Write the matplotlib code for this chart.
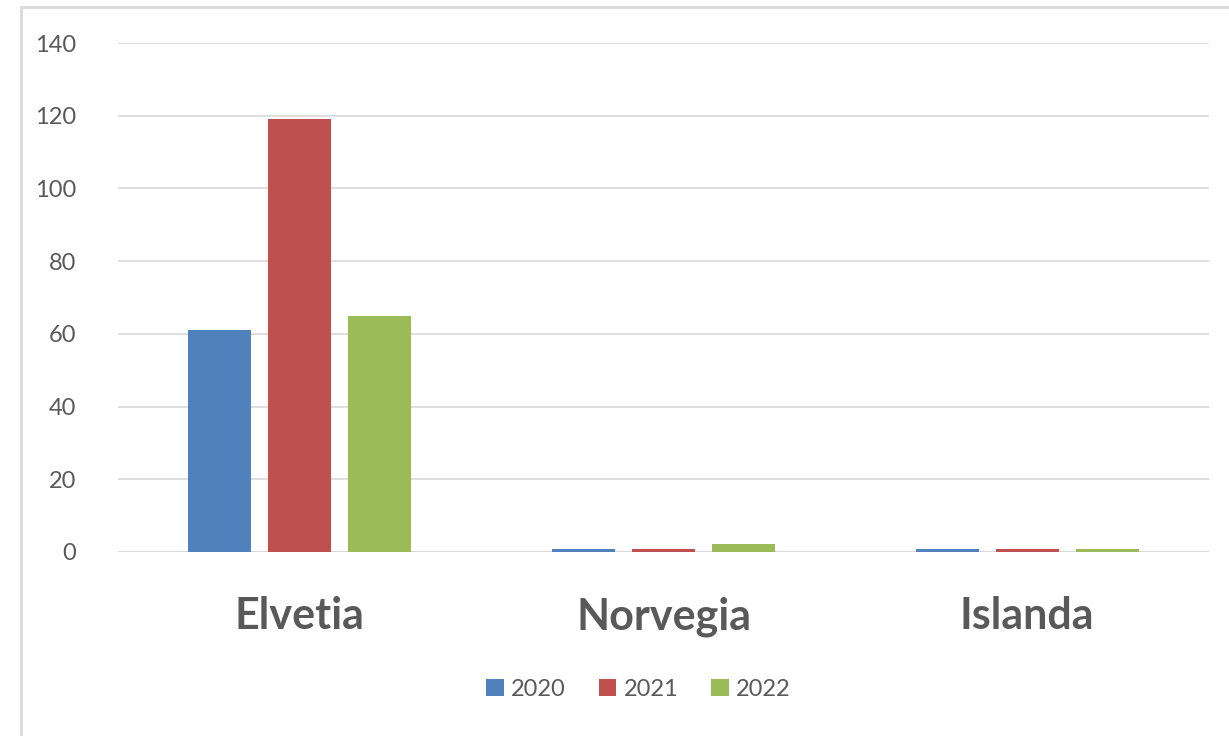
import matplotlib.pyplot as plt
from matplotlib.patches import Rectangle
import numpy as np

countries = ["Elvetia", "Norvegia", "Islanda"]
years = ["2020", "2021", "2022"]
v2020 = [61, 0.8, 0.8]
v2021 = [119, 0.8, 0.8]
v2022 = [65, 2.3, 0.8]
colors = ["#4f81bd", "#c0504d", "#9bbb59"]

plt.rcParams['font.family'] = ['Lato', 'DejaVu Sans']

fig = plt.figure(figsize=(12.29, 7.36), dpi=100)
ax = fig.add_axes([118 / 1229, 1 - 552 / 736, (1209 - 118) / 1229, (552 - 43) / 736])

# frame around chart area (cut off at right and bottom)
fig.patches.append(Rectangle((21 / 1229, -0.05), 1.1, 1.05 - 7 / 736,
                             transform=fig.transFigure, fill=False,
                             edgecolor="#d9d9d9", linewidth=2))

x = np.arange(len(countries))
w = 0.174
step = 0.22
for i, (vals, lab) in enumerate(zip([v2020, v2021, v2022], years)):
    ax.bar(x + (i - 1) * step, vals, width=w, color=colors[i], label=lab, zorder=3)

ax.set_xlim(-0.5, 2.5)
ax.set_ylim(0, 140)
ax.set_yticks(range(0, 141, 20))
ax.yaxis.grid(True, color="#d9d9d9", linewidth=1.2, zorder=0)
ax.axhline(0, color="#d9d9d9", linewidth=1.5, zorder=2)
for s in ax.spines.values():
    s.set_visible(False)
ax.tick_params(axis="y", length=0, pad=30, labelsize=17, labelcolor="#595959")
ax.tick_params(axis="x", length=0, pad=32)
ax.set_xticks(x)
ax.set_xticklabels(countries, fontsize=31, fontweight="bold", color="#595959")

ax.legend(loc="center", bbox_to_anchor=(0.477, -0.27), ncol=3, frameon=False,
          fontsize=17, labelcolor="#595959", handlelength=0.75, handleheight=0.75,
          handletextpad=0.3, columnspacing=1.4)

plt.savefig("out.png", dpi=100)
